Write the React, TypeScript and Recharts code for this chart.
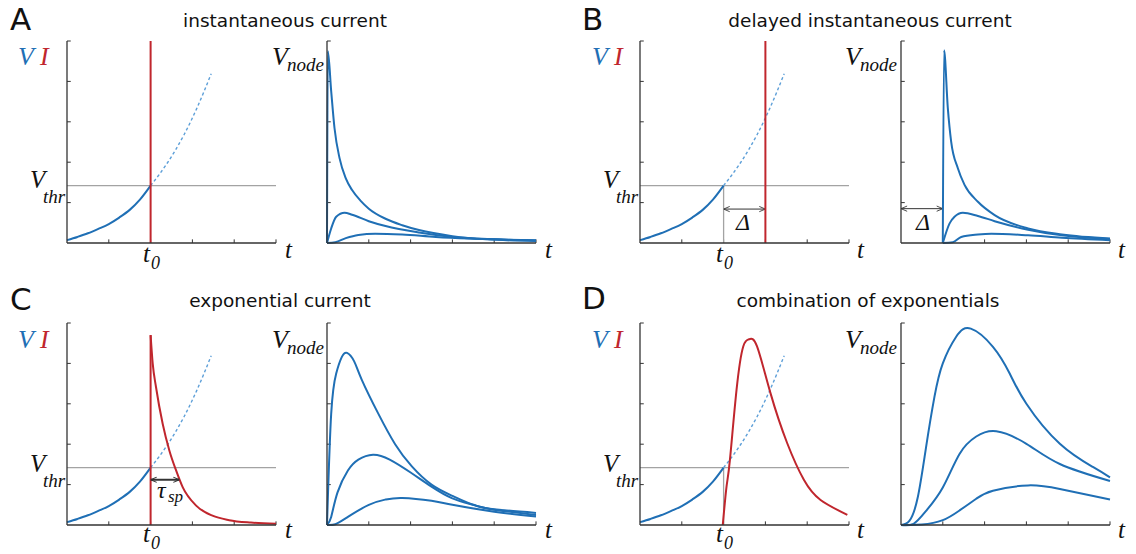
import React from 'react';
import { LineChart, Line, XAxis, YAxis, ReferenceLine } from 'recharts';

type Pt = { t: number; v: number };

// axis ticks shared by every panel
const axisTicks = [0, 1, 2, 3, 4, 5];
const tickLen = 0.09;
const vThr = 1.42;

// membrane potential (left panels)
const vSolid: Pt[] = [
  { t: 0, v: 0.07 }, { t: 0.25, v: 0.15 }, { t: 0.5, v: 0.24 }, { t: 0.75, v: 0.35 },
  { t: 1, v: 0.47 }, { t: 1.25, v: 0.63 }, { t: 1.5, v: 0.82 }, { t: 1.75, v: 1.08 }, { t: 2, v: 1.42 },
];
const vDashed: Pt[] = [
  { t: 2, v: 1.42 }, { t: 2.4, v: 1.98 }, { t: 2.8, v: 2.68 }, { t: 3.1, v: 3.32 }, { t: 3.45, v: 4.19 },
];
const thrLine: Pt[] = [{ t: 0, v: vThr }, { t: 5, v: vThr }];
const t0Drop: Pt[] = [{ t: 2, v: 0 }, { t: 2, v: vThr }];

// injected currents
const iInstant: Pt[] = [{ t: 2, v: 0 }, { t: 2, v: 5 }];
const iDelayed: Pt[] = [{ t: 3, v: 0 }, { t: 3, v: 5 }];
const iExpRise: Pt[] = [{ t: 2, v: 0 }, { t: 2, v: 4.7 }];
const iExpDecay: Pt[] = [
  { t: 2, v: 4.7 }, { t: 2.05, v: 4.0 }, { t: 2.13, v: 3.41 }, { t: 2.29, v: 2.5 }, { t: 2.45, v: 1.84 },
  { t: 2.61, v: 1.35 }, { t: 2.77, v: 0.93 }, { t: 3.09, v: 0.48 }, { t: 3.48, v: 0.23 },
  { t: 3.88, v: 0.12 }, { t: 4.4, v: 0.06 }, { t: 5, v: 0.03 },
];
const iCombo: Pt[] = [
  { t: 1.98, v: 0 }, { t: 2.07, v: 0.95 }, { t: 2.15, v: 1.6 }, { t: 2.31, v: 3.35 }, { t: 2.47, v: 4.42 },
  { t: 2.62, v: 4.6 }, { t: 2.8, v: 4.42 }, { t: 3.12, v: 3.27 }, { t: 3.52, v: 2.03 },
  { t: 3.92, v: 1.12 }, { t: 4.32, v: 0.62 }, { t: 4.96, v: 0.25 },
];

// annotation arrows
const deltaLeft: Pt[] = [{ t: 2, v: 0.84 }, { t: 3, v: 0.84 }];
const deltaRight: Pt[] = [{ t: 0, v: 0.85 }, { t: 1, v: 0.85 }];
const tauSp: Pt[] = [{ t: 2, v: 1.12 }, { t: 2.69, v: 1.12 }];

// node voltages (right panels)
const aNode1: Pt[] = [
  { t: 0, v: 0 }, { t: 0.02, v: 4.75 }, { t: 0.1, v: 3.76 }, { t: 0.18, v: 2.84 }, { t: 0.3, v: 2.1 },
  { t: 0.45, v: 1.6 }, { t: 0.6, v: 1.31 }, { t: 0.8, v: 1.05 }, { t: 1, v: 0.85 }, { t: 1.4, v: 0.6 },
  { t: 1.8, v: 0.44 }, { t: 2.2, v: 0.32 }, { t: 3, v: 0.17 }, { t: 3.8, v: 0.09 }, { t: 5, v: 0.05 },
];
const aNode2: Pt[] = [
  { t: 0, v: 0 }, { t: 0.1, v: 0.36 }, { t: 0.22, v: 0.65 }, { t: 0.42, v: 0.75 }, { t: 0.6, v: 0.7 },
  { t: 1, v: 0.54 }, { t: 1.4, v: 0.42 }, { t: 2.2, v: 0.26 }, { t: 3, v: 0.15 }, { t: 4, v: 0.09 }, { t: 5, v: 0.06 },
];
const aNode3: Pt[] = [
  { t: 0, v: 0 }, { t: 0.2, v: 0.02 }, { t: 0.45, v: 0.12 }, { t: 0.75, v: 0.2 }, { t: 1.15, v: 0.23 },
  { t: 1.8, v: 0.21 }, { t: 2.6, v: 0.15 }, { t: 3.4, v: 0.11 }, { t: 5, v: 0.07 },
];

const bNode1: Pt[] = [
  { t: 1, v: 0 }, { t: 1.03, v: 4.77 }, { t: 1.12, v: 3.34 }, { t: 1.2, v: 2.51 }, { t: 1.36, v: 1.85 },
  { t: 1.52, v: 1.44 }, { t: 1.84, v: 1.02 }, { t: 2.24, v: 0.69 }, { t: 3.04, v: 0.36 },
  { t: 3.85, v: 0.21 }, { t: 5, v: 0.11 },
];
const bNode2: Pt[] = [
  { t: 1, v: 0 }, { t: 1.16, v: 0.48 }, { t: 1.28, v: 0.65 }, { t: 1.48, v: 0.75 }, { t: 1.84, v: 0.67 },
  { t: 2.24, v: 0.54 }, { t: 3.04, v: 0.33 }, { t: 3.85, v: 0.19 }, { t: 5, v: 0.1 },
];
const bNode3: Pt[] = [
  { t: 1, v: 0 }, { t: 1.24, v: 0.02 }, { t: 1.44, v: 0.15 }, { t: 1.84, v: 0.21 }, { t: 2.16, v: 0.23 },
  { t: 3.04, v: 0.19 }, { t: 3.85, v: 0.13 }, { t: 5, v: 0.07 },
];

const cNode1: Pt[] = [
  { t: 0, v: 0 }, { t: 0.1, v: 2.75 }, { t: 0.22, v: 3.75 }, { t: 0.35, v: 4.15 }, { t: 0.48, v: 4.26 },
  { t: 0.65, v: 4.05 }, { t: 0.83, v: 3.6 }, { t: 1.23, v: 2.75 }, { t: 1.63, v: 2.0 }, { t: 2.03, v: 1.45 },
  { t: 2.5, v: 1.0 }, { t: 3, v: 0.72 }, { t: 3.64, v: 0.45 }, { t: 4.3, v: 0.36 }, { t: 5, v: 0.3 },
];
const cNode2: Pt[] = [
  { t: 0, v: 0 }, { t: 0.1, v: 0.2 }, { t: 0.25, v: 0.8 }, { t: 0.5, v: 1.35 }, { t: 0.75, v: 1.62 },
  { t: 1.1, v: 1.74 }, { t: 1.5, v: 1.62 }, { t: 2, v: 1.3 }, { t: 2.5, v: 0.95 }, { t: 3, v: 0.66 },
  { t: 3.5, v: 0.5 }, { t: 4, v: 0.38 }, { t: 5, v: 0.25 },
];
const cNode3: Pt[] = [
  { t: 0, v: 0 }, { t: 0.2, v: 0.02 }, { t: 0.5, v: 0.2 }, { t: 1, v: 0.5 }, { t: 1.4, v: 0.63 },
  { t: 1.8, v: 0.67 }, { t: 2.5, v: 0.6 }, { t: 3, v: 0.5 }, { t: 4, v: 0.33 }, { t: 5, v: 0.21 },
];

const dNode1: Pt[] = [
  { t: 0, v: 0 }, { t: 0.2, v: 0.1 }, { t: 0.4, v: 0.68 }, { t: 0.6, v: 1.93 }, { t: 0.8, v: 3.17 },
  { t: 1, v: 4.0 }, { t: 1.32, v: 4.66 }, { t: 1.67, v: 4.86 }, { t: 2.2, v: 4.41 }, { t: 2.6, v: 3.75 },
  { t: 3, v: 3.0 }, { t: 3.8, v: 2.01 }, { t: 4.6, v: 1.43 }, { t: 5, v: 1.18 },
];
const dNode2: Pt[] = [
  { t: 0, v: 0 }, { t: 0.3, v: 0.03 }, { t: 0.6, v: 0.35 }, { t: 1, v: 0.93 }, { t: 1.4, v: 1.76 },
  { t: 1.8, v: 2.19 }, { t: 2.28, v: 2.32 }, { t: 3, v: 2.01 }, { t: 3.8, v: 1.51 }, { t: 5, v: 1.09 },
];
const dNode3: Pt[] = [
  { t: 0, v: 0 }, { t: 0.5, v: 0.01 }, { t: 1, v: 0.12 }, { t: 1.4, v: 0.36 }, { t: 1.8, v: 0.65 },
  { t: 2.2, v: 0.85 }, { t: 3.04, v: 0.98 }, { t: 3.8, v: 0.89 }, { t: 5, v: 0.63 },
];

const BLUE = '#1f6fb5';
const LIGHT = '#5d9fd8';
const RED = '#c0262d';
const GRAY = '#a3a3a3';
const AXIS = '#333333';
const SERIF = '"Liberation Serif", "DejaVu Serif", serif';
const SANS = '"DejaVu Sans", "Liberation Sans", sans-serif';

const W = 208;
const H = 201;
const PAD = 6;

type Curve = 'monotone' | 'linear' | 'natural';

type Series = {
  data: Pt[];
  color: string;
  width?: number;
  dash?: string;
  curve?: Curve;
  arrow?: string;
};

function Panel({ left, top, series }: { left: number; top: number; series: Series[] }) {
  const inner = axisTicks.filter((k) => k > 0);
  return (
    <div style={{ position: 'absolute', left: left - PAD, top: top - PAD }}>
      <LineChart
        width={W + 2 * PAD}
        height={H + 2 * PAD}
        margin={{ top: PAD, right: PAD, bottom: PAD - 1, left: PAD - 1 }}
      >
        <XAxis
          type="number"
          dataKey="t"
          domain={[0, 5]}
          ticks={axisTicks}
          tick={false}
          tickLine={false}
          mirror
          height={1}
          axisLine={{ stroke: AXIS, strokeWidth: 1.3 }}
        />
        <YAxis
          type="number"
          domain={[0, 5]}
          ticks={axisTicks}
          tick={false}
          tickLine={false}
          mirror
          width={1}
          axisLine={{ stroke: AXIS, strokeWidth: 1.3 }}
        />
        {inner.map((k) => (
          <ReferenceLine
            key={`x${k}`}
            segment={[{ x: k, y: 0 }, { x: k, y: tickLen }]}
            stroke={AXIS}
            strokeWidth={1}
          />
        ))}
        {inner.map((k) => (
          <ReferenceLine
            key={`y${k}`}
            segment={[{ x: 0, y: k }, { x: tickLen, y: k }]}
            stroke={AXIS}
            strokeWidth={1}
          />
        ))}
        {series.map((s, i) => (
          <Line
            key={i}
            data={s.data}
            dataKey="v"
            type={s.curve ?? 'monotone'}
            stroke={s.color}
            strokeWidth={s.width ?? 2}
            strokeDasharray={s.dash}
            markerStart={s.arrow ? `url(#${s.arrow})` : undefined}
            markerEnd={s.arrow ? `url(#${s.arrow})` : undefined}
            dot={false}
            activeDot={false}
            isAnimationActive={false}
          />
        ))}
      </LineChart>
    </div>
  );
}

const leftCommon = (current: Series[], extra: Series[] = []): Series[] => [
  { data: thrLine, color: GRAY, width: 1.3, curve: 'linear' },
  ...extra,
  { data: vSolid, color: BLUE, width: 2 },
  { data: vDashed, color: LIGHT, width: 1.4, dash: '3 2.5' },
  ...current,
];

const nodes = (a: Pt[], b: Pt[], c: Pt[], curve: Curve = 'monotone', extra: Series[] = []): Series[] => [
  ...extra,
  { data: c, color: BLUE, curve },
  { data: b, color: BLUE, curve },
  { data: a, color: BLUE, curve },
];

function Sub({ x, y, main, sub, dx, dy, size, subSize, color = '#111' }: {
  x: number; y: number; main: string; sub: string; dx: number; dy: number;
  size: number; subSize: number; color?: string;
}) {
  return (
    <g fontFamily={SERIF} fontStyle="italic" fill={color}>
      <text x={x} y={y} fontSize={size}>{main}</text>
      <text x={x + dx} y={y + dy} fontSize={subSize}>{sub}</text>
    </g>
  );
}

function Labels() {
  const rows = [
    { vi: 65, thr: 188, t0: 262, tAx: 258 },
    { vi: 348, thr: 472, t0: 542, tAx: 538 },
  ];
  const cols = [{ vx: 18, thx: 30, t0x: 143, tl: 285, nx: 272, tr: 545 },
    { vx: 592, thx: 603, t0x: 716, tl: 857, nx: 845, tr: 1118 }];
  return (
    <svg width={1136} height={554} style={{ position: 'absolute', left: 0, top: 0, pointerEvents: 'none' }}>
      <defs>
        <marker id="thin" viewBox="0 0 8 8" refX="8" refY="4" markerWidth="7" markerHeight="7"
          markerUnits="userSpaceOnUse" orient="auto-start-reverse">
          <path d="M1,1 L8,4 L1,7" fill="none" stroke="#333" strokeWidth="1" />
        </marker>
        <marker id="thick" viewBox="0 0 8 8" refX="8" refY="4" markerWidth="7" markerHeight="7"
          markerUnits="userSpaceOnUse" orient="auto-start-reverse">
          <path d="M1,1 L8,4 L1,7" fill="none" stroke="#333" strokeWidth="1.2" />
        </marker>
      </defs>
      <g fontFamily={SANS} fill="#111">
        <text x={10} y={30} fontSize={31}>A</text>
        <text x={582} y={30} fontSize={31}>B</text>
        <text x={10} y={310} fontSize={31}>C</text>
        <text x={582} y={309} fontSize={31}>D</text>
        <text x={285} y={27} fontSize={18.5} textAnchor="middle">instantaneous current</text>
        <text x={870} y={27} fontSize={18.5} textAnchor="middle">delayed instantaneous current</text>
        <text x={280} y={307} fontSize={18.5} textAnchor="middle">exponential current</text>
        <text x={868} y={307} fontSize={18.5} textAnchor="middle">combination of exponentials</text>
      </g>
      {rows.map((r, ri) =>
        cols.map((c, ci) => (
          <g key={`${ri}-${ci}`}>
            <g fontFamily={SERIF} fontStyle="italic" fontSize={26}>
              <text x={c.vx} y={r.vi} fill={BLUE}>V</text>
              <text x={c.vx + 22} y={r.vi} fill={RED}>I</text>
            </g>
            <Sub x={c.thx} y={r.thr} main="V" sub="thr" dx={13} dy={15} size={25} subSize={19} />
            <Sub x={c.t0x} y={r.t0} main="t" sub="0" dx={8} dy={7} size={25} subSize={18} />
            <Sub x={c.nx} y={r.vi} main="V" sub="node" dx={15} dy={6} size={26} subSize={19} />
            <g fontFamily={SERIF} fontStyle="italic" fontSize={25} fill="#111">
              <text x={c.tl} y={r.tAx}>t</text>
              <text x={c.tr} y={r.tAx}>t</text>
            </g>
          </g>
        ))
      )}
      <g fontFamily={SERIF} fontStyle="italic" fontSize={24} fill="#111" textAnchor="middle">
        <text x={743} y={230}>Δ</text>
        <text x={923} y={230}>Δ</text>
      </g>
      <Sub x={157} y={498} main="τ" sub="sp" dx={11} dy={4} size={24} subSize={17} />
    </svg>
  );
}

export default function App() {
  const leftX = [67.5, 641];
  const rightX = [328, 902];
  const topY = [40.5, 323];
  return (
    <div style={{ position: 'absolute', left: 0, top: 0, width: 1136, height: 554, background: '#fff' }}>
      <Panel left={leftX[0]} top={topY[0]} series={leftCommon([{ data: iInstant, color: RED, curve: 'linear' }])} />
      <Panel left={rightX[0]} top={topY[0]} series={nodes(aNode1, aNode2, aNode3)} />
      <Panel
        left={leftX[1]}
        top={topY[0]}
        series={leftCommon(
          [{ data: iDelayed, color: RED, curve: 'linear' }],
          [
            { data: t0Drop, color: GRAY, width: 1.3, curve: 'linear' },
            { data: deltaLeft, color: '#333', width: 1, curve: 'linear', arrow: 'thin' },
          ],
        )}
      />
      <Panel
        left={rightX[1]}
        top={topY[0]}
        series={nodes(bNode1, bNode2, bNode3, 'monotone', [
          { data: deltaRight, color: '#333', width: 1, curve: 'linear', arrow: 'thin' },
        ])}
      />
      <Panel
        left={leftX[0]}
        top={topY[1]}
        series={leftCommon([
          { data: iExpRise, color: RED, curve: 'linear' },
          { data: iExpDecay, color: RED },
          { data: tauSp, color: '#333', width: 2, curve: 'linear', arrow: 'thick' },
        ])}
      />
      <Panel left={rightX[0]} top={topY[1]} series={nodes(cNode1, cNode2, cNode3, 'natural')} />
      <Panel
        left={leftX[1]}
        top={topY[1]}
        series={leftCommon(
          [{ data: iCombo, color: RED, curve: 'natural' }],
          [{ data: t0Drop, color: GRAY, width: 1.3, curve: 'linear' }],
        )}
      />
      <Panel left={rightX[1]} top={topY[1]} series={nodes(dNode1, dNode2, dNode3, 'natural')} />
      <Labels />
    </div>
  );
}
